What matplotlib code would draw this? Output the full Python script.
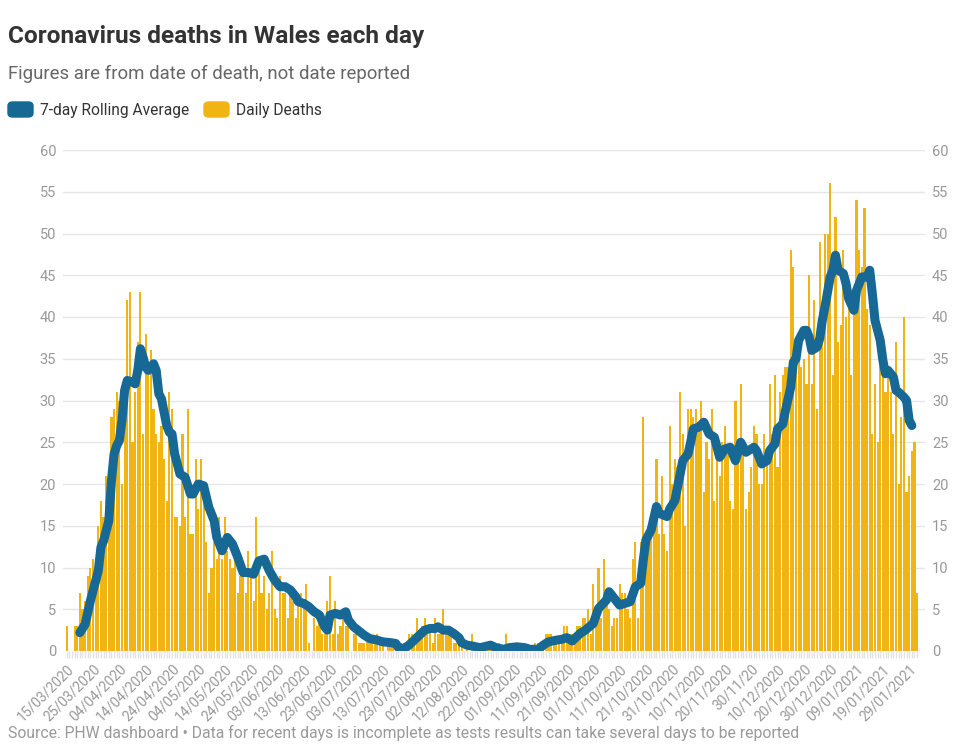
import numpy as np
import matplotlib
matplotlib.use("Agg")
import matplotlib.pyplot as plt
from matplotlib.patches import FancyBboxPatch

# daily deaths from 15/03/2020 onwards (one value per day)
daily_deaths = [
    3, 0, 0, 3, 3, 7, 5, 6, 9, 10,
    11, 10, 15, 18, 16, 21, 17, 28, 29, 31,
    30, 20, 32, 42, 43, 25, 31, 37, 43, 26,
    38, 33, 36, 29, 26, 25, 27, 23, 18, 31,
    29, 16, 16, 15, 26, 16, 29, 14, 14, 23,
    17, 23, 19, 13, 7, 10, 13, 11, 16, 11,
    16, 12, 11, 10, 11, 7, 9, 9, 7, 12,
    9, 6, 16, 10, 7, 9, 5, 7, 12, 5,
    4, 9, 7, 7, 4, 7, 6, 4, 7, 7,
    6, 8, 1, 0, 4, 3, 4, 2, 2, 6,
    9, 2, 6, 2, 3, 4, 3, 3, 0, 2,
    2, 1, 1, 1, 2, 1, 1, 1, 2, 1,
    1, 0, 1, 1, 1, 0, 0, 1, 0, 0,
    2, 2, 1, 4, 2, 3, 4, 2, 3, 1,
    4, 2, 2, 5, 3, 2, 2, 1, 1, 1,
    1, 0, 1, 0, 2, 0, 0, 1, 1, 0,
    1, 1, 0, 0, 1, 0, 0, 2, 0, 0,
    1, 0, 1, 0, 0, 0, 0, 0, 1, 1,
    1, 1, 2, 2, 2, 1, 1, 1, 1, 3,
    3, 2, 2, 2, 3, 3, 4, 4, 5, 2,
    8, 3, 10, 4, 11, 6, 5, 3, 4, 4,
    8, 7, 7, 5, 4, 11, 13, 4, 13, 28,
    13, 15, 16, 17, 23, 14, 21, 14, 12, 27,
    20, 23, 22, 31, 26, 15, 29, 29, 28, 29,
    27, 30, 19, 25, 23, 29, 18, 23, 21, 25,
    27, 24, 18, 17, 30, 23, 32, 25, 17, 19,
    22, 27, 26, 20, 20, 26, 24, 32, 26, 33,
    22, 31, 33, 34, 34, 48, 46, 35, 35, 34,
    35, 32, 45, 32, 42, 29, 49, 41, 50, 50,
    56, 33, 52, 37, 39, 48, 40, 42, 33, 42,
    54, 48, 46, 53, 41, 39, 26, 32, 25, 37,
    34, 31, 33, 31, 26, 37, 20, 28, 40, 19,
    21, 24, 25, 7,
]

# 7-day rolling average (day number since 15/03/2020, value)
avg_day = [
    5, 7, 9, 11, 12, 13, 14, 16, 17, 18, 19, 20, 21, 22, 23, 25, 26, 27, 28, 29,
    30, 31, 33, 34, 35, 36, 38, 39, 40, 41, 43, 45, 47, 48, 50, 52, 54, 56, 57, 59,
    60, 61, 63, 65, 67, 69, 71, 73, 75, 77, 79, 81, 83, 85, 87, 88, 90, 92, 94, 96,
    98, 99, 100, 102, 104, 106, 107, 109, 111, 113, 115, 118, 120, 123, 125, 126, 128, 130, 132, 134,
    136, 138, 140, 141, 143, 145, 147, 149, 150, 152, 154, 157, 161, 163, 166, 168, 171, 174, 176, 179,
    181, 183, 186, 188, 190, 192, 195, 197, 200, 202, 205, 206, 208, 210, 212, 214, 216, 218, 219, 220,
    222, 224, 225, 228, 229, 231, 234, 236, 237, 238, 240, 242, 244, 246, 248, 250, 252, 254, 256, 258,
    261, 262, 264, 266, 267, 269, 270, 272, 273, 275, 276, 277, 278, 280, 281, 282, 283, 285, 286, 287,
    288, 290, 291, 292, 293, 295, 296, 297, 299, 300, 301, 302, 304, 305, 306, 307, 309, 310, 311, 312,
    314, 315, 316, 318, 319, 320, 321,
]
avg_value = [
    2.2, 3.2, 6.0, 8.4, 9.6, 12.4, 13.2, 15.6, 20.4, 23.6, 24.6, 25.2, 27.6, 31.2, 32.4, 32.2, 32.0, 33.6, 36.2, 35.2,
    34.0, 33.6, 34.4, 33.6, 30.8, 30.2, 27.0, 26.2, 26.0, 23.6, 21.2, 20.8, 18.8, 18.8, 20.0, 19.8, 17.2, 15.6, 13.6, 12.0,
    12.8, 13.6, 12.8, 11.2, 9.4, 9.4, 9.2, 10.8, 11.0, 9.6, 8.5, 7.7, 7.7, 7.3, 6.5, 5.9, 5.7, 5.3, 4.7, 4.3,
    2.9, 2.5, 4.3, 4.5, 4.3, 4.7, 3.7, 2.9, 2.4, 1.9, 1.5, 1.3, 1.1, 1.0, 0.9, 0.4, 0.3, 0.7, 1.3, 1.9,
    2.5, 2.7, 2.7, 2.9, 2.5, 2.5, 2.1, 1.6, 1.0, 0.7, 0.6, 0.4, 0.7, 0.4, 0.2, 0.4, 0.5, 0.4, 0.2, 0.2,
    0.7, 1.1, 1.3, 1.4, 1.6, 1.2, 2.1, 2.5, 3.3, 5.1, 6.1, 7.1, 6.3, 5.5, 5.7, 5.9, 7.7, 8.1, 10.9, 13.3,
    14.5, 17.3, 16.5, 16.1, 17.0, 18.0, 22.8, 23.6, 25.0, 26.6, 26.8, 27.4, 26.0, 25.6, 23.2, 24.2, 24.4, 22.8, 25.0, 23.8,
    24.4, 24.0, 22.4, 22.8, 24.0, 24.8, 26.6, 27.2, 28.8, 31.6, 34.6, 35.0, 37.2, 38.4, 38.4, 37.6, 36.0, 36.4, 37.4, 39.6,
    41.2, 44.8, 45.6, 47.4, 45.6, 45.2, 44.0, 42.2, 40.8, 43.2, 44.0, 44.8, 44.8, 45.6, 42.8, 39.6, 37.2, 34.8, 33.2, 33.6,
    32.8, 31.2, 31.0, 30.4, 30.0, 27.6, 27.0,
]

tick_labels = [
    "15/03/2020", "25/03/2020", "04/04/2020", "14/04/2020", "24/04/2020", "04/05/2020",
    "14/05/2020", "24/05/2020", "03/06/2020", "13/06/2020", "23/06/2020", "03/07/2020",
    "13/07/2020", "23/07/2020", "02/08/2020", "12/08/2020", "22/08/2020", "01/09/2020",
    "11/09/2020", "21/09/2020", "01/10/2020", "11/10/2020", "21/10/2020", "31/10/2020",
    "10/11/2020", "20/11/2020", "30/11/20", "10/12/2020", "20/12/2020", "30/12/2020",
    "09/01/2021", "19/01/2021", "29/01/2021",
]

BAR = '#f0b414'
LINE = '#176895'
GREY = '#999999'

plt.rcParams['font.family'] = ['Roboto', 'DejaVu Sans']

W, H = 971, 752
fig = plt.figure(figsize=(W / 100, H / 100), dpi=100)
ax = fig.add_axes([63 / W, 1 - 651 / H, (925 - 63) / W, (651 - 150) / H])

days = np.arange(len(daily_deaths))
ax.bar(days, daily_deaths, width=0.82, color=BAR, zorder=2)
ax.plot(avg_day, avg_value, color=LINE, lw=6.5, solid_capstyle='round',
        solid_joinstyle='round', zorder=3)

ax.set_xlim(-1.4, 326)
ax.set_ylim(0, 60)
ax.set_yticks(range(0, 61, 5))
ax.grid(axis='y', color='#e6e6e6', lw=1, zorder=0)
for s in ax.spines.values():
    s.set_visible(False)

ax.tick_params(axis='y', length=0, labelcolor=GREY, labelsize=10.5,
               labelleft=True, labelright=True, pad=5)

ax.set_xticks(range(0, 10 * len(tick_labels), 10))
ax.set_xticklabels(tick_labels, rotation=45, ha='right', va='top',
                   rotation_mode='anchor')
ax.set_xticks(days, minor=True)
ax.tick_params(axis='x', which='both', length=5, width=1, color='#e3e3e3',
               labelcolor=GREY, labelsize=10, pad=3)

# header
fig.text(8 / W, 1 - 37 / H, "Coronavirus deaths in Wales each day", fontsize=17.6,
         fontweight='bold', color='#333333', va='center')
fig.text(8 / W, 1 - 74 / H, "Figures are from date of death, not date reported",
         fontsize=13.4, color='#666666', va='center')

# legend
for x0, color, label in [(8, LINE, "7-day Rolling Average"), (204, BAR, "Daily Deaths")]:
    fig.patches.append(FancyBboxPatch((x0 / W, 1 - 117 / H), 25 / W, 15 / H,
                                      boxstyle="round,pad=0,rounding_size=0.005",
                                      transform=fig.transFigure, color=color))
    fig.text((x0 + 32) / W, 1 - 110 / H, label, fontsize=11.2, color='#333333',
             va='center')

fig.text(8 / W, 1 - 733 / H,
         "Source: PHW dashboard \u2022 Data for recent days is incomplete as tests "
         "results can take several days to be reported",
         fontsize=11.3, color=GREY, va='center')

fig.savefig("out.png", dpi=100)
